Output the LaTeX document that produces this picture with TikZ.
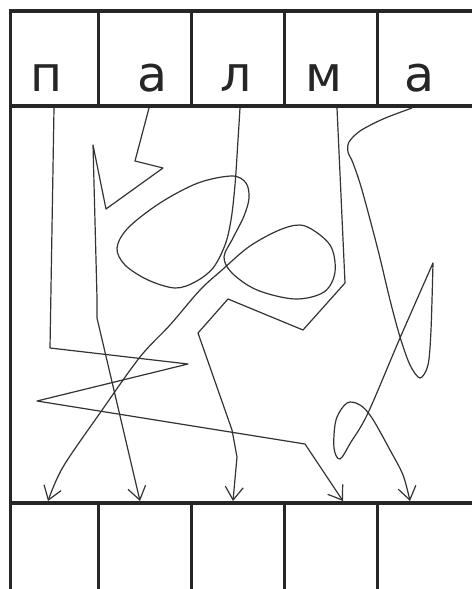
\documentclass[tikz,border=0pt]{standalone}
\usepackage{fontspec}
\newfontfamily\lettfont{DejaVu Sans}
\usetikzlibrary{arrows.meta}
\begin{document}
\begin{tikzpicture}[x=1pt,y=-1pt,
  hline/.style={line width=3.6pt, black!85},
  vline/.style={line width=3pt, black!85},
  wire/.style={line width=1.2pt, black!80, line join=round},
  arr/.style={wire, -{Straight Barb[length=13pt,width=18pt,line width=1.2pt]}},
  letter/.style={font=\lettfont\fontsize{49}{49}\selectfont, anchor=base, inner sep=0pt, text=black!85}]
\useasboundingbox (0,0) rectangle (472,589);
\fill[white] (0,0) rectangle (472,589);
% frame
\draw[hline] (9,11) -- (472,11);
\draw[hline] (9,106) -- (472,106);
\draw[hline] (9,503) -- (472,503);
\draw[vline] (10,10) -- (10,589);
\foreach \x in {98,191,284,377} {
  \draw[vline] (\x,11) -- (\x,106);
  \draw[vline] (\x,503) -- (\x,589);
}
% letters
\node[letter] (l1) at (47,91) {п};
\node[letter] (l2) at (153,91) {а};
\node[letter] (l3) at (236,91) {л};
\node[letter] (l4) at (324,91) {м};
\node[letter] (l5) at (420,91) {а};
% start / end points
\coordinate (s1) at (54,108);
\coordinate (s2) at (149,108);
\coordinate (s3) at (240,108);
\coordinate (s4) at (337,108);
\coordinate (s5) at (412,108);
\coordinate (e1) at (48,501);
\coordinate (e2) at (140,501);
\coordinate (e3) at (233,501);
\coordinate (e4) at (343,501);
\coordinate (e5) at (410,501);
% п
\draw[arr] (s1) -- (50,348) -- (188,364) -- (37,401) -- (305,444) -- (e4);
% а
\draw[arr] (s2) -- (135,161) -- (163,168) -- (106,209) -- (93,145) -- (97,298) -- (97,318) -- (e2);
% м
\draw[arr] (s4) -- (345,283) -- (303,330) -- (228,299) -- (198,333) -- (232,430) -- (237,457) -- (e3);
% л
\draw[arr] (s3) -- plot[smooth, tension=0.55] coordinates {
  (240,108) (238,140) (235,185) (231,220) (225,245) (213,268) (195,282) (175,288)
  (148,280) (125,265) (117,248) (128,228) (160,203) (198,183) (232,176) (246,183)
  (249,198) (244,216) (233,238) (224,257) (232,273) (257,290) (295,299) (324,292)
  (335,272) (330,245) (305,226) (282,229) (250,246) (222,270) (200,290) (170,325)
  (140,357) (100,413) (63,467) (48,501)};
% а (second)
\draw[arr] (s5) -- plot[smooth, tension=0.5] coordinates {
  (412,108) (383,119) (360,131) (349,142) (348,152) (353,163) (362,190) (378,250)
  (390,300) (400,337) (410,365) (420,378) (428,365) (431,330) (433,263)}
  -- plot[smooth, tension=0.55] coordinates {
  (433,263) (400,338) (368,413) (351,442) (340,459) (334,448) (336,420) (347,403)
  (360,405) (372,418) (390,450) (403,475) (410,501)};
\end{tikzpicture}
\end{document}
